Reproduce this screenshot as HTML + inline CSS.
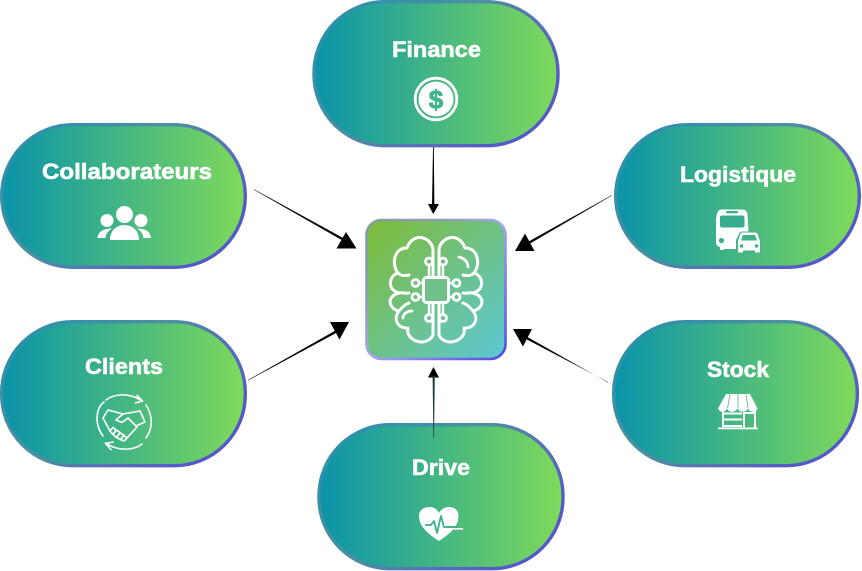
<!DOCTYPE html>
<html><head><meta charset="utf-8"><style>
html,body{margin:0;padding:0;background:#fff;width:862px;height:571px;overflow:hidden}
svg{display:block}
text{font-family:"Liberation Sans",sans-serif;font-weight:700;font-size:22px;fill:#fff;stroke:#fff;stroke-width:.55px}
</style></head><body>
<svg width="862" height="571" viewBox="0 0 862 571" xmlns="http://www.w3.org/2000/svg">
<defs>
<linearGradient id="f" x1="0" y1="0" x2="1" y2="0"><stop offset="0" stop-color="#0a93aa"/><stop offset="1" stop-color="#7fda5a"/></linearGradient>
<linearGradient id="s" x1="0" y1="0" x2="1" y2="0.6"><stop offset="0" stop-color="#2590b0"/><stop offset="0.5" stop-color="#4d8fa0"/><stop offset="0.75" stop-color="#5a70b8"/><stop offset="1" stop-color="#5458c8"/></linearGradient>
<linearGradient id="cf" x1="0" y1="0" x2="1" y2="1"><stop offset="0.08" stop-color="#7cbc42"/><stop offset="1" stop-color="#5cc8d6"/></linearGradient>
<linearGradient id="cs" x1="0" y1="0" x2="1" y2="1"><stop offset="0" stop-color="#7fa0a0"/><stop offset="0.25" stop-color="#8a9cb0"/><stop offset="0.5" stop-color="#a8a4ec"/><stop offset="1" stop-color="#5248e0"/></linearGradient>
<g id="half" fill="none" stroke="#fff" stroke-width="3" stroke-linecap="round" stroke-linejoin="round">
<path d="M-3,-40C-4,-53 -23,-59 -29,-42C-40,-43 -46,-28 -38,-17C-48,-14 -49,1 -36,3C-49,5 -49,18 -37,21C-44,30 -37,39 -28,38C-31,51 -9,58 -3,45Z"/>
<path d="M-38,-17C-35,-14 -31,-14 -27,-15"/>
<path d="M-36,3C-33,2 -30,4 -27,3"/>
<path d="M-37,21C-33,16 -30,14 -27,13"/>
</g>
</defs>

<!-- connectors -->
<g fill="#000">
<polygon points="254,189.2 254,189.8 345.400,242.100 346.600,239.900"/><polygon points="346,232 336.5,248.5 356.5,248.5"/>
<polygon points="612,195 612,195.500 525.600,246.100 524.400,243.900"/><polygon points="515,251 534.5,251 525,233.5"/>
<polygon points="248,380 248,380.500 339.600,331.100 338.400,328.900"/><polygon points="349,322 330,322 339.5,339.5"/>
<polygon points="608,382 608,382.500 523.600,334.900 522.400,337.100"/><polygon points="513,329 532,329 523,346.5"/>
<polygon points="433,147 433.8,147 434.4,205 432,205"/><polygon points="433.2,214 428,204 439,204"/>
<polygon points="433.5,367 428,377.5 439,377.5"/>
</g>

<!-- pills -->
<rect x="1.7" y="124.7" width="243.600" height="142.600" rx="71" fill="url(#f)" stroke="url(#s)" stroke-width="3.400"/>
<rect x="314" y="1.7" width="244" height="144" rx="71" fill="url(#f)" stroke="url(#s)" stroke-width="3.400"/>
<rect x="615.700" y="124.7" width="243.600" height="142.600" rx="71" fill="url(#f)" stroke="url(#s)" stroke-width="3.400"/>
<rect x="1.7" y="321.700" width="243.600" height="144" rx="71" fill="url(#f)" stroke="url(#s)" stroke-width="3.400"/>
<rect x="613.700" y="321.700" width="243.600" height="144" rx="71" fill="url(#f)" stroke="url(#s)" stroke-width="3.400"/>
<rect x="319" y="424.700" width="244" height="144" rx="71" fill="url(#f)" stroke="url(#s)" stroke-width="3.400"/>
<polygon points="433.4,438 434,438 434.8,376 432.6,376" fill="#1d3a3a"/>

<!-- labels -->
<text x="392" y="57" textLength="89" lengthAdjust="spacingAndGlyphs">Finance</text>
<text x="42" y="179" textLength="170" lengthAdjust="spacingAndGlyphs">Collaborateurs</text>
<text x="85" y="374" textLength="78" lengthAdjust="spacingAndGlyphs">Clients</text>
<text x="680" y="182" textLength="116" lengthAdjust="spacingAndGlyphs">Logistique</text>
<text x="707" y="377" textLength="62" lengthAdjust="spacingAndGlyphs">Stock</text>
<text x="412" y="475" textLength="58" lengthAdjust="spacingAndGlyphs">Drive</text>

<!-- center -->
<rect x="366.500" y="220" width="139" height="139" rx="15" fill="url(#cf)" stroke="url(#cs)" stroke-width="2.600"/>
<g transform="translate(436,290)">
<use href="#half"/>
<use href="#half" transform="scale(-1,1)"/>
<g fill="none" stroke="#fff" stroke-width="2.800" stroke-linecap="round">
<rect x="-12.500" y="-12.500" width="25" height="25" rx="3" stroke-width="3" fill="#6fc08a"/>
<path d="M-7,-13V-24M7,-13V-24M-7,13V24M7,13V24M-13,-7H-18M-13,7H-18M13,-7H18M13,7H18" stroke-width="2.400"/>
<circle cx="-7" cy="-28.500" r="3.500" fill="#70bf84"/><circle cx="7" cy="-28.500" r="3.500" fill="#70bf84"/>
<circle cx="-7" cy="28" r="3.500" fill="#70c094"/><circle cx="7" cy="28" r="3.500" fill="#70c094"/>
<circle cx="-20.500" cy="-7" r="3.500" fill="#72be80"/><circle cx="-20.500" cy="7" r="3.500" fill="#72be88"/>
<circle cx="20.500" cy="-7" r="3.500" fill="#6cc092"/><circle cx="20.500" cy="7" r="3.500" fill="#6cc098"/>
<path d="M23,-33C28,-32 32,-28 32,-23"/><path d="M-33,28C-33,24 -29,21 -24,21"/>
</g>
</g>

<!-- finance icon -->
<circle cx="436" cy="99" r="20.800" fill="none" stroke="#fff" stroke-width="2.800"/>
<circle cx="436" cy="99" r="17.500" fill="#fff"/>
<text x="436" y="108.500" text-anchor="middle" style="font-size:26px;fill:#3fb48a;stroke:#3fb48a;stroke-width:.8px">$</text>

<!-- people icon -->
<g fill="#fff">
<circle cx="124.500" cy="214.500" r="8.500"/><circle cx="107" cy="220.500" r="6.500"/><circle cx="141" cy="220.500" r="6.500"/>
<path d="M110,240C110,230 117,225 124.500,225C132,225 139,230 139,240Z"/>
<path d="M97.500,238C98,232 103,228.500 112,228.500C108,231 106,234 105.500,238Z"/>
<path d="M151,238C150.500,232 146,228.500 137,228.500C141,231 143,234 143.500,238Z"/>
</g>

<!-- bus & car -->
<path d="M722,209.500H742C745,209.500 747,211 747.500,214L748.500,232H740L736,240V249H724V250H720V247C717,246 716,245 716,242V222C716.500,212 718,209.500 722,209.500Z" fill="#fff"/>
<rect x="720" y="215.500" width="24.500" height="12" rx="2" fill="#38ae8e"/>
<rect x="726" y="211" width="12" height="2.200" rx="1" fill="#38ae8e"/>
<circle cx="721.500" cy="240.500" r="2.600" fill="#38ae8e"/>
<path d="M742,232H755C757,232 758,233 758.500,235L760.500,241V253H737.500V241L739.500,235C740,233 740.500,232 742,232Z" fill="#fff" stroke="#43b288" stroke-width="1"/>
<path d="M743,235H755L757,240.500H741Z" fill="#43b288"/>
<circle cx="741.500" cy="246" r="1.800" fill="#43b288"/><circle cx="756.500" cy="246" r="1.800" fill="#43b288"/>
<rect x="743" y="250.500" width="12" height="3" fill="#46b486"/>

<!-- store -->
<g fill="#fff">
<path d="M726,394H750L757.500,408.500H718Z"/>
<rect x="722" y="410" width="2" height="19"/><rect x="754" y="410" width="2" height="19"/>
<rect x="718" y="427.500" width="39.500" height="1.800"/>
<rect x="722" y="412.500" width="20" height="2"/><rect x="722" y="418.500" width="20" height="2"/><rect x="722" y="425" width="20" height="2"/>
<rect x="743" y="412" width="2" height="16"/><rect x="743" y="412" width="12" height="2"/>
<path d="M718,408C719,413 726,413 727,408C728,413 736,413 737.500,408C739,413 747,413 748,408C749,413 757,413 757.500,408Z"/>
</g>
<path d="M730,394.500L727.500,408M738,394V408M746,394.500L748,408" stroke="#4cb880" stroke-width=".8" fill="none"/>

<!-- handshake -->
<g fill="none" stroke="#fff" stroke-width="1.600" stroke-linecap="round" stroke-linejoin="round">
<path d="M142,401C131,393 115,393 106,400"/><path d="M137,395.500L142.500,401L135.500,403"/>
<path d="M105.500,443C117,451 133,451 142,444"/><path d="M111,449.500L105.500,443.500L113,442"/>
<path d="M103,436C94,424 96,408 104,402"/><path d="M146,405C153,416 153,428 146,438"/>
<path d="M103,418L108,410L123,414L140,411L145,422L137,425.500"/>
<path d="M123,414L116,420L122,422.500L128,418L137,427L127,438"/>
<path d="M103,418L110,431"/>
<g stroke-width="1.600">
<path d="M110,431L113,427.500L116,430L113,434.500Z"/>
<path d="M113,434.500L116.500,430L120,432.500L116.500,437.500Z"/>
<path d="M116.500,437.500L120,433L124,435L120.500,439.500Z"/>
<path d="M120.500,439.500L124,435.500L127,438L124,441Z"/>
</g>
</g>

<!-- heart -->
<path d="M439,541C427,533 419,526 419,516C419,510 424,507 429,507C434,507 437,509 439,513C441,509 445,507 449,507C454,507 458.500,510 458.500,516C458.500,526 451,533 439,541Z" fill="#fff"/>
<path d="M425,525H431L434,521L437,533L441,516L444,527H447" fill="none" stroke="#3ab08e" stroke-width="1.800" stroke-linejoin="round"/>
<rect x="446" y="528" width="17" height="1.600" fill="#fff"/>
<rect x="446" y="526" width="13" height="2" fill="#45b486"/>
</svg>
</body></html>
